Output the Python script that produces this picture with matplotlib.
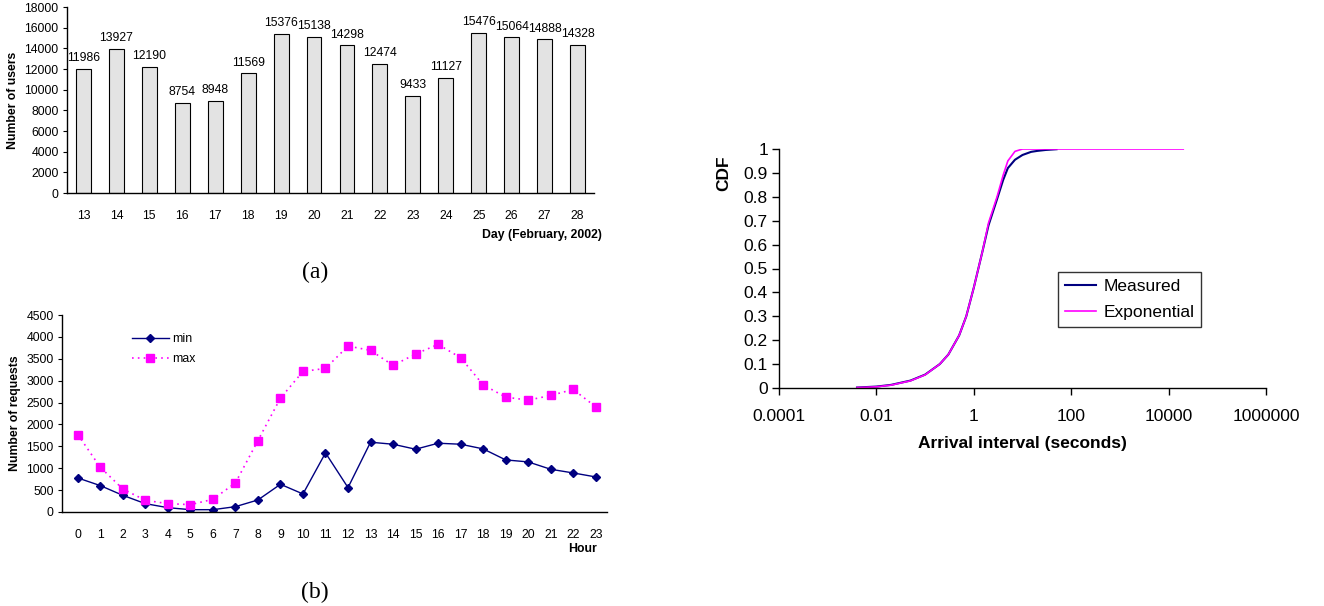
import matplotlib
matplotlib.use("Agg")
import matplotlib.pyplot as plt
from matplotlib.ticker import FixedLocator, FixedFormatter, NullLocator

plt.rcParams['font.family'] = ['Liberation Sans', 'DejaVu Sans']

# ---- data ----
days = ['13', '14', '15', '16', '17', '18', '19', '20', '21', '22', '23', '24', '25', '26', '27', '28']
users = [11986, 13927, 12190, 8754, 8948, 11569, 15376, 15138, 14298, 12474, 9433, 11127, 15476, 15064, 14888, 14328]

hours = list(range(24))
req_min = [778, 603, 381, 191, 99, 53, 53, 122, 275, 633, 412, 1350,
           557, 1594, 1548, 1434, 1571, 1548, 1442, 1190, 1144, 976, 892, 801]
req_max = [1770, 1022, 526, 267, 191, 168, 290, 664, 1632, 2601, 3211, 3280,
           3791, 3692, 3349, 3608, 3829, 3524, 2906, 2624, 2555, 2662, 2799, 2403]

exp_x = [0.004, 0.006, 0.01, 0.02, 0.05, 0.1, 0.2, 0.3, 0.5, 0.7, 1, 1.5, 2, 3, 4, 5, 7, 10, 20000]
exp_cdf = [0.002, 0.003, 0.005, 0.012, 0.03, 0.055, 0.10, 0.14, 0.22, 0.30, 0.42, 0.57, 0.69, 0.80, 0.89, 0.95, 0.99, 1.0, 1.0]
meas_x = [0.004, 0.01, 0.02, 0.05, 0.1, 0.2, 0.3, 0.5, 0.7, 1, 1.5, 2, 3, 4, 5, 7, 10, 15, 20, 30, 50]
meas_cdf = [0.002, 0.006, 0.013, 0.031, 0.056, 0.10, 0.14, 0.22, 0.30, 0.42, 0.57, 0.68, 0.79, 0.87, 0.92, 0.955, 0.975, 0.988, 0.992, 0.996, 0.999]

W, H = 1324, 606
fig = plt.figure(figsize=(W / 100, H / 100), dpi=100)


def px_axes(left, top, right, bottom):
    return fig.add_axes([left / W, 1 - bottom / H, (right - left) / W, (bottom - top) / H])


def style(ax):
    for s in ('top', 'right'):
        ax.spines[s].set_visible(False)
    for s in ('left', 'bottom'):
        ax.spines[s].set_linewidth(1.0)
        ax.spines[s].set_color('black')


FS = 8.8

# ---- (a) bar chart ----
ax1 = px_axes(67, 7, 594, 193)
style(ax1)
xs = list(range(len(days)))
ax1.bar(xs, users, width=0.45, color='#e3e3e3', edgecolor='black', linewidth=0.8)
for x, v in zip(xs, users):
    ax1.text(x, v + 450, str(v), ha='center', va='bottom', fontsize=FS)
ax1.set_xlim(-0.5, 15.5)
ax1.set_ylim(0, 18000)
ax1.set_yticks(range(0, 18001, 2000))
ax1.set_xticks(xs)
ax1.set_xticklabels(days)
ax1.tick_params(axis='x', length=0, labelsize=FS, pad=12)
ax1.tick_params(axis='y', length=3, labelsize=FS, pad=3)
ax1.set_ylabel('Number of users', fontsize=FS, fontweight='bold', labelpad=4)
fig.text(602 / W, 1 - 235 / H, 'Day (February, 2002)', ha='right', va='center', fontsize=FS, fontweight='bold')
fig.text(315 / W, 1 - 272 / H, '(a)', ha='center', va='center', fontsize=17, family='Liberation Serif')

# ---- (b) line chart ----
ax2 = px_axes(62, 315, 607, 512)
style(ax2)
ax2.plot(hours, req_min, color='#000080', linewidth=1.0, marker='D', markersize=4.5, label='min')
ax2.plot(hours, req_max, color='#ff00ff', linewidth=1.2, linestyle=(0, (1, 2.5)), marker='s', markersize=6, label='max')
ax2.set_xlim(-0.7, 23.5)
ax2.set_ylim(0, 4500)
ax2.set_yticks(range(0, 4501, 500))
ax2.set_xticks(hours)
ax2.tick_params(axis='x', length=0, labelsize=FS, pad=12)
ax2.tick_params(axis='y', length=3, labelsize=FS, pad=3)
ax2.set_ylabel('Number of requests', fontsize=FS, fontweight='bold', labelpad=4)
ax2.legend(loc='upper left', bbox_to_anchor=((127 - 62) / 545, 1.0 - (328 - 315) / 197), frameon=False,
           fontsize=FS, handlelength=3.0, labelspacing=0.7, borderaxespad=0, handletextpad=0.3)
fig.text(597 / W, 1 - 549 / H, 'Hour', ha='right', va='center', fontsize=FS, fontweight='bold')
fig.text(315 / W, 1 - 592 / H, '(b)', ha='center', va='center', fontsize=17, family='Liberation Serif')

# ---- CDF ----
ax3 = px_axes(779, 149, 1266, 388)
style(ax3)
ax3.set_xscale('log')
ax3.plot(meas_x, meas_cdf, color='#000080', linewidth=1.5, label='Measured')
ax3.plot(exp_x, exp_cdf, color='#ff00ff', linewidth=1.2, label='Exponential')
ax3.set_xlim(1e-4, 1e6)
ax3.set_ylim(0, 1)
xt = [1e-4, 1e-2, 1, 1e2, 1e4, 1e6]
ax3.xaxis.set_major_locator(FixedLocator(xt))
ax3.xaxis.set_major_formatter(FixedFormatter(['0.0001', '0.01', '1', '100', '10000', '1000000']))
ax3.xaxis.set_minor_locator(NullLocator())
ax3.set_yticks([i / 10 for i in range(11)])
ax3.set_yticklabels(['0', '0.1', '0.2', '0.3', '0.4', '0.5', '0.6', '0.7', '0.8', '0.9', '1'])
ax3.tick_params(axis='both', length=5, labelsize=12.5, width=1)
ax3.tick_params(axis='x', pad=10)
ax3.tick_params(axis='y', pad=3)
ax3.set_xlabel('Arrival interval (seconds)', fontsize=12.5, fontweight='bold', labelpad=9)
ax3.set_ylabel('CDF', fontsize=12.5, fontweight='bold')
ax3.yaxis.set_label_coords(-0.098, 0.9)
leg = ax3.legend(loc='upper left', bbox_to_anchor=((1058 - 779) / 487, 1 - (272 - 149) / 239),
                 fontsize=12.5, frameon=True, fancybox=False, handlelength=1.8, borderaxespad=0,
                 borderpad=0.4, labelspacing=0.6, handletextpad=0.4)
leg.get_frame().set_edgecolor('black')
leg.get_frame().set_linewidth(1.0)

fig.savefig('out.png', dpi=100)
